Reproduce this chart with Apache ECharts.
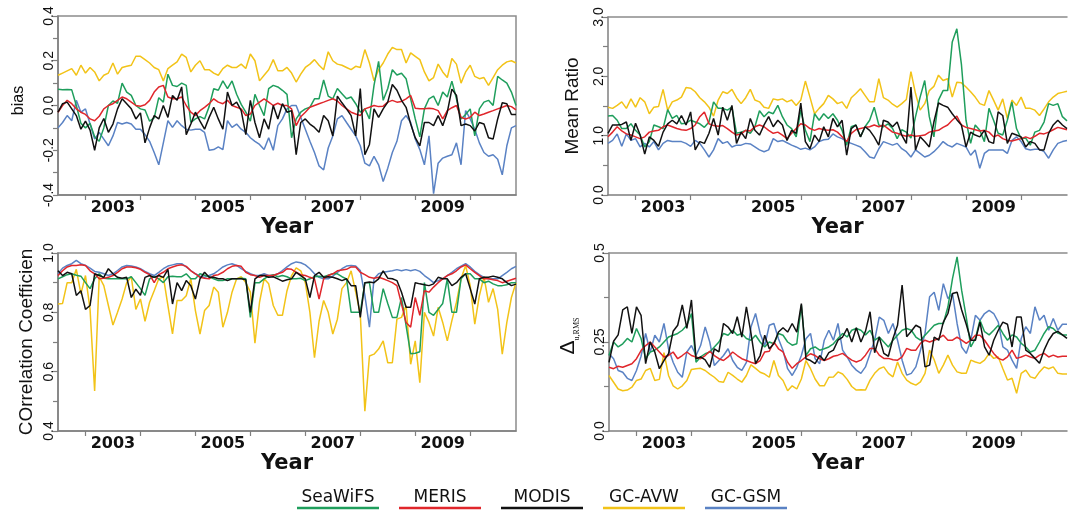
<!DOCTYPE html>
<html>
<head>
<meta charset="utf-8">
<title>Monthly validation statistics 2002–2010</title>
<script src="https://cdn.jsdelivr.net/npm/echarts@6/dist/echarts.min.js"></script>
<style>
  html, body { margin: 0; padding: 0; background: #ffffff; }
  #chart { width: 1078px; height: 511px; }
</style>
</head>
<body>
<div id="chart"></div>
<script>
// ---- time axis -------------------------------------------------------------
const START_YEAR = 2002;
const START_MONTH = 7;          // first monthly composite: July 2002
const N_OBS = 101;              // July 2002 .. November 2010
const YEAR_LABELS = ['2003', '2005', '2007', '2009'];
const YEAR_TICKS = ['2003', '2004', '2005', '2006', '2007', '2008', '2009', '2010'];

// ---- products --------------------------------------------------------------
const SERIES_NAMES = ['SeaWiFS', 'MERIS', 'MODIS', 'GC-AVW', 'GC-GSM'];
const SERIES_COLORS = ['#1f9e5c', '#e0262b', '#111111', '#f2c318', '#5a82c4'];

// ---- bias ------------------------------------------------------------------
const biasSeaWiFS = [
  0.073, 0.07, 0.072, 0.07, 0.0, -0.08, -0.1, -0.08, -0.14, -0.16,
  -0.1, 0.0, 0.02, 0.01, 0.1, 0.06, 0.045, 0.0, -0.015, -0.02,
  -0.07, -0.055, 0.035, 0.015, 0.14, 0.09, 0.085, 0.1, 0.09, -0.075,
  -0.06, -0.05, -0.06, -0.005, 0.075, 0.068, 0.11, 0.075, 0.11, 0.05,
  0.005, -0.03, -0.07, 0.05, 0.0, -0.045, 0.075, 0.09, 0.083, 0.068,
  0.05, -0.144, -0.06, -0.03, -0.015, -0.008, 0.03, 0.03, 0.114, 0.042,
  0.03, 0.076, 0.053, 0.03, 0.038, 0.008, -0.03, -0.015, -0.06, 0.09,
  0.197, 0.023, 0.076, 0.16, 0.136, 0.144, 0.12, 0.03, -0.06, -0.14,
  -0.015, 0.03, 0.042, 0.0, 0.06, 0.038, 0.109, 0.03, -0.06, -0.04,
  -0.015, -0.136, -0.015, 0.015, 0.023, 0.0, 0.13, 0.114, 0.1, 0.06, 0.0
];
const biasMERIS = [
  -0.03, 0.0, 0.023, 0.008, -0.015, -0.03, -0.04, -0.06, -0.068, -0.048,
  -0.015, 0.0, 0.008, 0.023, 0.038, 0.03, 0.015, 0.0, -0.003, 0.003,
  0.023, 0.06, 0.083, 0.09, 0.038, 0.03, 0.03, 0.038, 0.0, -0.03,
  -0.045, -0.023, -0.008, 0.008, 0.03, 0.015, 0.008, 0.023, 0.0, -0.008,
  -0.015, -0.045, -0.038, 0.0, 0.015, 0.03, 0.015, 0.0, 0.01, 0.0,
  0.0, -0.015, -0.09, -0.05, -0.03, -0.008, 0.0, 0.008, 0.015, 0.023,
  0.03, 0.02, 0.0, -0.015, -0.03, -0.038, -0.045, -0.015, -0.008, 0.0,
  -0.005, -0.003, 0.015, 0.023, 0.015, 0.018, 0.03, 0.045, -0.012, -0.015,
  -0.015, -0.012, -0.015, -0.023, -0.06, -0.023, -0.01, 0.0, -0.053, -0.06,
  -0.053, -0.03, -0.045, -0.038, -0.03, -0.023, -0.015, -0.008, 0.0, -0.005, -0.02
];
const biasMODIS = [
  -0.03, 0.008, 0.015, -0.015, -0.045, -0.106, -0.07, -0.11, -0.2, -0.1,
  -0.058, -0.12, -0.083, -0.015, 0.03, 0.008, -0.015, -0.06, -0.033, -0.167,
  -0.1, -0.045, -0.06, 0.0, -0.053, 0.045, 0.023, 0.083, -0.13, -0.083,
  -0.03, -0.07, -0.106, -0.053, -0.008, -0.06, -0.106, 0.06, 0.0, 0.015,
  -0.023, -0.13, 0.023, -0.076, -0.144, -0.06, -0.106, 0.0, -0.06, 0.008,
  -0.03, -0.023, -0.22, -0.076, -0.06, -0.083, -0.098, -0.12, -0.045, -0.068,
  -0.136, 0.042, 0.012, -0.015, -0.045, -0.136, 0.076, -0.22, -0.174, -0.015,
  -0.053, -0.015, 0.015, 0.094, 0.068, 0.023, -0.008, -0.083, -0.144, -0.18,
  -0.076, -0.076, -0.09, -0.045, -0.09, -0.03, 0.073, 0.045, -0.09, -0.083,
  -0.09, -0.114, -0.076, -0.083, -0.144, -0.15, -0.06, 0.012, 0.008, -0.04, -0.04
];
const biasGCAVW = [
  0.135, 0.145, 0.155, 0.165, 0.135, 0.18, 0.145, 0.17, 0.15, 0.11,
  0.135, 0.145, 0.19, 0.14, 0.17, 0.175, 0.18, 0.22, 0.22, 0.205,
  0.19, 0.17, 0.16, 0.11, 0.165, 0.18, 0.195, 0.23, 0.215, 0.15,
  0.18, 0.2, 0.16, 0.16, 0.145, 0.135, 0.165, 0.18, 0.17, 0.17,
  0.185, 0.165, 0.23, 0.2, 0.11, 0.135, 0.16, 0.205, 0.155, 0.155,
  0.17, 0.145, 0.105, 0.14, 0.17, 0.185, 0.205, 0.18, 0.16, 0.24,
  0.2, 0.185, 0.18, 0.17, 0.16, 0.175, 0.17, 0.25, 0.19, 0.11,
  0.16, 0.19, 0.23, 0.26, 0.25, 0.25, 0.19, 0.235, 0.22, 0.205,
  0.15, 0.11, 0.125, 0.185, 0.15, 0.125, 0.21, 0.185, 0.1, 0.15,
  0.18, 0.13, 0.12, 0.125, 0.09, 0.125, 0.16, 0.18, 0.195, 0.2, 0.19
];
const biasGCGSM = [
  -0.1, -0.076, -0.045, -0.068, 0.023, -0.03, -0.015, -0.083, -0.15, -0.12,
  -0.15, -0.18, -0.136, -0.076, -0.083, -0.076, -0.083, -0.106, -0.106, -0.13,
  -0.16, -0.21, -0.265, -0.167, -0.068, -0.098, -0.068, -0.09, -0.106, -0.11,
  -0.106, -0.106, -0.12, -0.2, -0.197, -0.185, -0.197, -0.068, -0.098, -0.083,
  -0.106, -0.12, -0.144, -0.16, -0.174, -0.197, -0.144, -0.2, -0.09, -0.06,
  -0.015, 0.0, 0.0, -0.053, -0.106, -0.16, -0.21, -0.27, -0.288, -0.19,
  -0.136, -0.06, -0.045, -0.076, -0.106, -0.136, -0.18, -0.258, -0.27, -0.227,
  -0.265, -0.34, -0.28, -0.21, -0.16, -0.068, -0.045, -0.076, -0.15, -0.197,
  -0.265, -0.136, -0.394, -0.258, -0.235, -0.227, -0.22, -0.167, -0.265, -0.023,
  -0.06, -0.106, -0.167, -0.21, -0.227, -0.22, -0.24, -0.31, -0.18, -0.1, -0.09
];

// ---- mean ratio ------------------------------------------------------------
const ratioSeaWiFS = [
  1.33, 1.34, 1.26, 1.12, 1.12, 1.2, 1.09, 1.01, 0.81, 0.9,
  1.18, 1.15, 1.12, 1.44, 1.29, 1.34, 1.2, 1.21, 1.26, 1.23,
  1.2, 1.14, 1.23, 1.57, 1.46, 1.46, 1.43, 1.48, 1.04, 1.06,
  1.09, 1.04, 1.15, 1.42, 1.32, 1.4, 1.37, 1.51, 1.32, 1.18,
  1.12, 0.98, 1.43, 1.09, 0.9, 1.37, 1.26, 1.37, 1.29, 1.37,
  1.26, 1.09, 0.84, 1.15, 1.18, 0.98, 1.15, 1.26, 1.48, 1.18,
  1.15, 1.2, 1.12, 0.95, 1.1, 1.06, 0.96, 1.32, 1.65, 1.93,
  1.32, 0.98, 1.6, 1.76, 1.76, 2.58, 2.8, 2.2, 1.26, 0.87,
  1.18, 1.09, 0.9, 1.46, 1.26, 1.04, 1.01, 1.26, 1.57, 1.12,
  0.95, 0.96, 0.84, 1.06, 1.09, 1.23, 1.54, 1.51, 1.54, 1.32, 1.25
];
const ratioMERIS = [
  0.98, 1.06, 1.15, 1.08, 1.03, 1.01, 0.98, 0.95, 0.98, 1.06,
  1.08, 1.09, 1.15, 1.18, 1.15, 1.12, 1.1, 1.09, 1.12, 1.18,
  1.32, 1.4, 1.2, 1.17, 1.16, 1.17, 1.12, 1.06, 1.01, 1.03,
  1.09, 1.08, 1.15, 1.18, 1.15, 1.09, 1.04, 1.06, 1.01, 0.95,
  1.04, 1.12, 1.2, 1.18, 1.12, 1.09, 1.12, 1.1, 1.09, 1.1,
  1.06, 0.98, 0.9, 1.04, 1.1, 1.12, 1.14, 1.15, 1.18, 1.15,
  1.18, 1.12, 1.06, 1.04, 1.01, 0.99, 1.01, 0.99, 1.0, 1.01,
  1.06, 1.08, 1.09, 1.14, 1.18, 1.26, 1.33, 1.18, 1.14, 1.12,
  1.1, 1.08, 1.09, 1.06, 0.98, 1.01, 0.95, 0.92, 0.91, 0.93,
  0.95, 0.98, 0.95, 0.99, 1.04, 1.03, 1.06, 1.1, 1.14, 1.12, 1.1
];
const ratioMODIS = [
  1.04, 1.18, 1.18, 1.19, 1.23, 0.92, 1.21, 1.01, 0.69, 0.98,
  0.92, 0.82, 1.06, 1.2, 1.26, 1.2, 1.34, 1.18, 1.4, 0.76,
  0.9, 0.87, 1.04, 1.29, 1.01, 1.48, 1.26, 1.51, 0.87, 1.06,
  0.95, 1.29, 1.09, 1.01, 1.18, 1.32, 1.15, 1.26, 1.18, 0.92,
  1.09, 1.04, 1.55, 0.9, 0.78, 1.01, 0.9, 1.15, 0.98, 1.29,
  1.15, 1.26, 0.67, 1.12, 1.18, 0.98, 1.15, 1.09, 0.98, 0.84,
  1.26, 1.23, 1.15, 1.23, 1.01, 0.87, 1.82, 0.76, 0.98, 0.9,
  0.81, 1.23, 1.55, 1.51, 1.48, 1.37, 1.27, 1.18, 0.81, 1.06,
  1.01, 0.98, 1.09, 0.9, 0.87, 1.4, 1.34, 0.87, 1.04, 1.01,
  0.98, 0.81, 0.9, 0.87, 0.76, 0.76, 1.04, 1.18, 1.26, 1.18, 1.12
];
const ratioGCAVW = [
  1.48, 1.46, 1.51, 1.57, 1.46, 1.62, 1.48, 1.64, 1.57, 1.37,
  1.48, 1.49, 1.78, 1.43, 1.57, 1.6, 1.65, 1.81, 1.8, 1.74,
  1.64, 1.57, 1.48, 1.33, 1.6, 1.74, 1.71, 1.78, 1.64, 1.54,
  1.64, 1.78, 1.6, 1.57, 1.48, 1.46, 1.62, 1.6, 1.62, 1.57,
  1.6, 1.51, 1.6, 1.92, 1.65, 1.37, 1.46, 1.54, 1.68, 1.62,
  1.54, 1.57, 1.46, 1.64, 1.71, 1.79, 1.68, 1.57, 1.57, 1.96,
  1.64, 1.6, 1.53, 1.48, 1.54, 1.61, 2.08, 1.71, 1.43, 1.54,
  1.76, 1.83, 2.02, 1.93, 1.96, 1.65, 1.9, 1.89, 1.82, 1.74,
  1.65, 1.54, 1.51, 1.76, 1.6, 1.43, 1.62, 1.29, 1.6, 1.51,
  1.65, 1.46, 1.46, 1.43, 1.34, 1.45, 1.57, 1.65, 1.71, 1.73, 1.75
];
const ratioGCGSM = [
  0.87, 0.92, 1.03, 0.82, 1.03, 0.92, 0.95, 0.81, 0.87, 0.81,
  0.9, 0.76, 0.87, 0.92, 0.9, 0.9, 0.9, 0.87, 0.82, 0.92,
  0.87, 0.76, 0.64, 0.76, 0.95, 0.87, 0.9, 0.81, 0.84, 0.84,
  0.87, 0.86, 0.81, 0.76, 0.73, 0.76, 0.95, 0.9, 0.92, 0.88,
  0.84, 0.81, 0.77, 0.79, 0.76, 0.81, 0.9, 0.93, 0.94, 1.03,
  0.98, 0.95, 0.9, 0.87, 0.84, 0.81, 0.73, 0.64, 0.62, 0.78,
  0.9, 0.87, 0.84, 0.87, 0.78, 0.73, 0.64, 0.76, 0.7, 0.64,
  0.67, 0.73, 0.81, 0.9, 0.84, 0.81, 0.87, 0.84, 0.81, 0.67,
  0.76, 0.45, 0.7, 0.76, 0.76, 0.76, 0.76, 0.7, 0.92, 0.98,
  0.9, 0.78, 0.76, 0.77, 0.77, 0.73, 0.62, 0.76, 0.87, 0.9, 0.92
];

// ---- correlation coefficient -----------------------------------------------
const corrSeaWiFS = [
  0.913, 0.92, 0.927, 0.93, 0.925, 0.922, 0.9, 0.88, 0.913, 0.93,
  0.915, 0.913, 0.913, 0.913, 0.913, 0.913, 0.92, 0.9, 0.88, 0.857,
  0.913, 0.92, 0.913, 0.9, 0.92, 0.922, 0.92, 0.92, 0.93, 0.913,
  0.913, 0.93, 0.925, 0.92, 0.913, 0.907, 0.907, 0.913, 0.913, 0.913,
  0.915, 0.913, 0.783, 0.9, 0.9, 0.913, 0.922, 0.927, 0.92, 0.924,
  0.92, 0.913, 0.913, 0.915, 0.907, 0.913, 0.92, 0.922, 0.92, 0.925,
  0.93, 0.93, 0.92, 0.913, 0.8, 0.8, 0.8, 0.9, 0.9, 0.8,
  0.8, 0.88, 0.83, 0.783, 0.783, 0.85, 0.755, 0.66, 0.662, 0.667,
  0.9, 0.8, 0.79, 0.81, 0.83, 0.913, 0.8, 0.8, 0.913, 0.93,
  0.93, 0.913, 0.913, 0.9, 0.905, 0.896, 0.89, 0.89, 0.893, 0.9, 0.9
];
const corrMERIS = [
  0.924, 0.94, 0.953, 0.958, 0.958, 0.96, 0.958, 0.94, 0.93, 0.913,
  0.915, 0.918, 0.924, 0.935, 0.947, 0.953, 0.953, 0.95, 0.945, 0.935,
  0.927, 0.9, 0.927, 0.935, 0.947, 0.953, 0.958, 0.96, 0.955, 0.94,
  0.93, 0.918, 0.915, 0.913, 0.924, 0.927, 0.935, 0.947, 0.955, 0.958,
  0.955, 0.935, 0.927, 0.924, 0.918, 0.924, 0.924, 0.924, 0.93, 0.935,
  0.947, 0.945, 0.935, 0.927, 0.924, 0.918, 0.913, 0.845, 0.913, 0.924,
  0.93, 0.94, 0.943, 0.945, 0.953, 0.953, 0.935, 0.927, 0.918, 0.915,
  0.918, 0.913, 0.907, 0.9, 0.89, 0.828, 0.766, 0.75, 0.85, 0.79,
  0.873, 0.868, 0.885, 0.9, 0.913, 0.924, 0.93, 0.94, 0.953, 0.96,
  0.947, 0.935, 0.924, 0.913, 0.913, 0.91, 0.907, 0.9, 0.905, 0.91, 0.915
];
const corrMODIS = [
  0.94, 0.924, 0.935, 0.93, 0.857, 0.873, 0.81, 0.823, 0.93, 0.924,
  0.918, 0.947, 0.93, 0.918, 0.915, 0.918, 0.85, 0.878, 0.857, 0.918,
  0.924, 0.918, 0.924, 0.918, 0.945, 0.828, 0.9, 0.873, 0.907, 0.89,
  0.845, 0.913, 0.935, 0.918, 0.918, 0.913, 0.913, 0.907, 0.913, 0.913,
  0.913, 0.91, 0.8, 0.913, 0.924, 0.924, 0.918, 0.92, 0.913, 0.905,
  0.91, 0.913, 0.935, 0.924, 0.913, 0.85, 0.924, 0.935, 0.918, 0.92,
  0.918, 0.913, 0.907, 0.913, 0.89, 0.89, 0.783, 0.9, 0.902, 0.9,
  0.913, 0.94, 0.915, 0.913, 0.907, 0.868, 0.817, 0.817, 0.9, 0.896,
  0.893, 0.89, 0.896, 0.918, 0.913, 0.913, 0.89, 0.9, 0.918, 0.93,
  0.88, 0.828, 0.913, 0.918, 0.918, 0.922, 0.918, 0.913, 0.9, 0.89, 0.895
];
const corrGCAVW = [
  0.828, 0.83, 0.9, 0.9, 0.945, 0.862, 0.924, 0.81, 0.535, 0.92,
  0.89, 0.823, 0.757, 0.8, 0.845, 0.9, 0.92, 0.81, 0.845, 0.77,
  0.834, 0.873, 0.913, 0.92, 0.823, 0.727, 0.84, 0.84, 0.856, 0.913,
  0.806, 0.727, 0.806, 0.823, 0.885, 0.868, 0.75, 0.8, 0.868, 0.913,
  0.92, 0.9, 0.868, 0.696, 0.834, 0.913, 0.896, 0.823, 0.79, 0.79,
  0.873, 0.924, 0.95, 0.94, 0.9, 0.8, 0.647, 0.77, 0.84, 0.8,
  0.727, 0.777, 0.88, 0.9, 0.94, 0.868, 0.794, 0.467, 0.653, 0.659,
  0.676, 0.704, 0.63, 0.63, 0.777, 0.783, 0.823, 0.625, 0.704, 0.563,
  0.8, 0.766, 0.72, 0.817, 0.766, 0.704, 0.772, 0.834, 0.913, 0.958,
  0.89, 0.76, 0.856, 0.92, 0.834, 0.88, 0.81, 0.659, 0.766, 0.85, 0.9
];
const corrGCGSM = [
  0.93, 0.949, 0.958, 0.964, 0.975, 0.964, 0.958, 0.949, 0.938, 0.935,
  0.93, 0.924, 0.93, 0.941, 0.953, 0.958, 0.956, 0.953, 0.947, 0.938,
  0.93, 0.924, 0.935, 0.947, 0.956, 0.96, 0.964, 0.964, 0.953, 0.941,
  0.93, 0.922, 0.918, 0.924, 0.93, 0.941, 0.953, 0.96, 0.964, 0.958,
  0.947, 0.938, 0.93, 0.924, 0.924, 0.93, 0.924, 0.924, 0.93, 0.941,
  0.953, 0.964, 0.97, 0.967, 0.96, 0.947, 0.93, 0.918, 0.913, 0.913,
  0.922, 0.935, 0.947, 0.956, 0.958, 0.956, 0.941, 0.857, 0.75, 0.913,
  0.93, 0.935, 0.938, 0.94, 0.944, 0.94, 0.944, 0.94, 0.944, 0.938,
  0.924, 0.913, 0.9, 0.907, 0.913, 0.924, 0.935, 0.947, 0.956, 0.964,
  0.953, 0.938, 0.927, 0.918, 0.913, 0.913, 0.913, 0.924, 0.935, 0.947, 0.955
];

// ---- unbiased RMS difference -----------------------------------------------
const rmsSeaWiFS = [
  0.212, 0.25, 0.236, 0.245, 0.26, 0.25, 0.288, 0.26, 0.203, 0.222,
  0.227, 0.236, 0.25, 0.264, 0.269, 0.274, 0.283, 0.297, 0.33, 0.193,
  0.208, 0.217, 0.222, 0.236, 0.25, 0.274, 0.269, 0.283, 0.269, 0.274,
  0.26, 0.255, 0.269, 0.25, 0.236, 0.25, 0.245, 0.274, 0.269, 0.25,
  0.241, 0.245, 0.354, 0.212, 0.231, 0.236, 0.227, 0.231, 0.236, 0.245,
  0.26, 0.274, 0.264, 0.283, 0.288, 0.283, 0.27, 0.283, 0.255, 0.264,
  0.25, 0.236, 0.255, 0.269, 0.283, 0.288, 0.283, 0.264, 0.255, 0.269,
  0.283, 0.297, 0.302, 0.302, 0.349, 0.428, 0.489, 0.395, 0.32, 0.236,
  0.26, 0.311, 0.279, 0.27, 0.283, 0.297, 0.274, 0.255, 0.27, 0.264,
  0.246, 0.236, 0.222, 0.227, 0.25, 0.274, 0.293, 0.288, 0.275, 0.27, 0.27
];
const rmsMERIS = [
  0.179, 0.175, 0.182, 0.179, 0.184, 0.189, 0.203, 0.226, 0.24, 0.25,
  0.236, 0.222, 0.208, 0.212, 0.222, 0.203, 0.212, 0.222, 0.212, 0.208,
  0.203, 0.212, 0.224, 0.212, 0.203, 0.198, 0.208, 0.222, 0.212, 0.203,
  0.198, 0.193, 0.189, 0.198, 0.222, 0.224, 0.25, 0.231, 0.222, 0.193,
  0.176, 0.189, 0.198, 0.208, 0.217, 0.212, 0.203, 0.198, 0.203, 0.21,
  0.213, 0.218, 0.208, 0.199, 0.194, 0.199, 0.213, 0.232, 0.232, 0.213,
  0.204, 0.204, 0.2, 0.199, 0.208, 0.232, 0.227, 0.227, 0.246, 0.255,
  0.25, 0.255, 0.26, 0.269, 0.255, 0.255, 0.264, 0.255, 0.246, 0.255,
  0.269, 0.269, 0.255, 0.236, 0.218, 0.204, 0.199, 0.208, 0.227, 0.204,
  0.208, 0.213, 0.208, 0.204, 0.213, 0.218, 0.208, 0.213, 0.208, 0.21, 0.21
];
const rmsMODIS = [
  0.193, 0.252, 0.27, 0.34, 0.349, 0.274, 0.349, 0.325, 0.189, 0.25,
  0.222, 0.175, 0.198, 0.217, 0.28, 0.297, 0.354, 0.288, 0.368, 0.203,
  0.208, 0.2, 0.179, 0.231, 0.222, 0.302, 0.292, 0.274, 0.321, 0.264,
  0.349, 0.274, 0.189, 0.212, 0.269, 0.231, 0.245, 0.278, 0.29, 0.278,
  0.302, 0.278, 0.358, 0.203, 0.198, 0.189, 0.212, 0.198, 0.22, 0.227,
  0.255, 0.264, 0.288, 0.25, 0.29, 0.25, 0.28, 0.335, 0.22, 0.264,
  0.218, 0.21, 0.26, 0.297, 0.41, 0.265, 0.28, 0.297, 0.29, 0.18,
  0.185, 0.264, 0.255, 0.306, 0.33, 0.386, 0.39, 0.34, 0.3, 0.255,
  0.255, 0.306, 0.236, 0.213, 0.255, 0.283, 0.306, 0.3, 0.236, 0.32,
  0.32, 0.227, 0.218, 0.204, 0.19, 0.227, 0.255, 0.274, 0.28, 0.27, 0.26
];
const rmsGCAVW = [
  0.156, 0.137, 0.118, 0.113, 0.115, 0.123, 0.142, 0.146, 0.17, 0.176,
  0.142, 0.145, 0.22, 0.156, 0.127, 0.118, 0.127, 0.142, 0.173, 0.175,
  0.176, 0.17, 0.16, 0.151, 0.139, 0.137, 0.165, 0.156, 0.146, 0.137,
  0.156, 0.186, 0.176, 0.165, 0.16, 0.151, 0.198, 0.156, 0.142, 0.113,
  0.127, 0.118, 0.146, 0.198, 0.175, 0.146, 0.127, 0.127, 0.151, 0.152,
  0.166, 0.16, 0.145, 0.125, 0.115, 0.116, 0.115, 0.143, 0.162, 0.175,
  0.18, 0.162, 0.152, 0.194, 0.162, 0.143, 0.134, 0.129, 0.138, 0.162,
  0.227, 0.2, 0.162, 0.185, 0.213, 0.185, 0.166, 0.162, 0.162, 0.199,
  0.194, 0.19, 0.199, 0.218, 0.204, 0.208, 0.175, 0.143, 0.148, 0.106,
  0.162, 0.171, 0.152, 0.148, 0.166, 0.18, 0.175, 0.18, 0.162, 0.16, 0.16
];
const rmsGCGSM = [
  0.217, 0.203, 0.17, 0.165, 0.148, 0.142, 0.17, 0.21, 0.274, 0.222,
  0.269, 0.25, 0.302, 0.231, 0.193, 0.165, 0.151, 0.222, 0.24, 0.212,
  0.24, 0.292, 0.25, 0.184, 0.198, 0.212, 0.231, 0.198, 0.179, 0.17,
  0.193, 0.292, 0.33, 0.274, 0.24, 0.297, 0.302, 0.259, 0.226, 0.175,
  0.156, 0.179, 0.212, 0.259, 0.274, 0.203, 0.189, 0.255, 0.283, 0.255,
  0.302, 0.227, 0.208, 0.185, 0.171, 0.162, 0.18, 0.218, 0.255, 0.32,
  0.311, 0.274, 0.302, 0.255, 0.199, 0.157, 0.162, 0.18, 0.227, 0.274,
  0.377, 0.39, 0.339, 0.414, 0.372, 0.386, 0.302, 0.236, 0.218, 0.255,
  0.325, 0.311, 0.33, 0.339, 0.33, 0.306, 0.236, 0.227, 0.199, 0.176,
  0.26, 0.293, 0.274, 0.349, 0.311, 0.325, 0.283, 0.316, 0.283, 0.3, 0.3
];

// ---- y tick labels (values that carry a label; other ticks stay bare) ------
const BIAS_TICKS = [-0.4, -0.2, 0.0, 0.2, 0.4];
const BIAS_TICK_TEXT = ['-0.4', '-0.2', '0.0', '0.2', '0.4'];
const RATIO_TICKS = [0, 1, 2, 3];
const RATIO_TICK_TEXT = ['0.0', '1.0', '2.0', '3.0'];
const CORR_TICKS = [0.4, 0.6, 0.8, 1.0];
const CORR_TICK_TEXT = ['0.4', '0.6', '0.8', '1.0'];
const RMS_TICKS = [0, 0.25, 0.5];
const RMS_TICK_TEXT = ['0.0', '0.25', '0.5'];

// ---------------------------------------------------------------------------
function monthLabels(count) {
  const out = [];
  for (let k = 0; k < count; k++) {
    const m0 = START_MONTH - 1 + k;
    const y = START_YEAR + Math.floor(m0 / 12);
    const m = (m0 % 12) + 1;
    out.push(y + '-' + (m < 10 ? '0' + m : '' + m));
  }
  return out;
}
const MONTHS = monthLabels(N_OBS);

function tickFormatter(vals, texts) {
  return function (v) {
    for (let k = 0; k < vals.length; k++) {
      if (Math.abs(v - vals[k]) < 1e-6) return texts[k];
    }
    return '';
  };
}

const AXIS_GREY = '#7f7f7f';
const FRAME_GREY = '#8c8c8c';
const TEXT = '#111111';

// closed: full box round the plot; open: no rule on the right-hand side
const panels = [
  {
    rect: { left: 58, top: 16, width: 458, height: 179 }, frame: 'closed',
    y: { min: -0.4, max: 0.4, interval: 0.1 },
    fmt: tickFormatter(BIAS_TICKS, BIAS_TICK_TEXT),
    name: 'bias', nameGap: 31, nameSize: 16, namePad: [0, 0, 0, 10],
    data: [biasSeaWiFS, biasMERIS, biasMODIS, biasGCAVW, biasGCGSM]
  },
  {
    rect: { left: 608, top: 17, width: 459, height: 178 }, frame: 'open',
    y: { min: 0, max: 3, interval: 0.5 },
    fmt: tickFormatter(RATIO_TICKS, RATIO_TICK_TEXT),
    name: 'Mean Ratio', nameGap: 26, nameSize: 19, namePad: [0, 0, 0, 0],
    data: [ratioSeaWiFS, ratioMERIS, ratioMODIS, ratioGCAVW, ratioGCGSM]
  },
  {
    rect: { left: 58, top: 253, width: 458, height: 178 }, frame: 'closed',
    y: { min: 0.4, max: 1.0, interval: 0.1 },
    fmt: tickFormatter(CORR_TICKS, CORR_TICK_TEXT),
    name: 'COrrelation Coefficien', nameGap: 22, nameSize: 19, namePad: [0, 0, 0, 0],
    data: [corrSeaWiFS, corrMERIS, corrMODIS, corrGCAVW, corrGCGSM]
  },
  {
    rect: { left: 609, top: 253, width: 458, height: 178 }, frame: 'open',
    y: { min: 0, max: 0.5, interval: 0.125 },
    fmt: tickFormatter(RMS_TICKS, RMS_TICK_TEXT),
    name: '{d|Δ}{s|u,RMS}', nameGap: 28, nameSize: 19, namePad: [0, 0, 0, 12],
    data: [rmsSeaWiFS, rmsMERIS, rmsMODIS, rmsGCAVW, rmsGCGSM]
  }
];

// drawing order: GC-AVW underneath, MODIS on top
const DRAW_ORDER = [3, 4, 0, 1, 2];

const grid = [], xAxis = [], yAxis = [], series = [], topRules = [];
panels.forEach((p, g) => {
  grid.push(Object.assign({
    show: p.frame === 'closed', borderColor: FRAME_GREY, borderWidth: 1.5,
    backgroundColor: 'transparent', containLabel: false
  }, p.rect));

  xAxis.push({
    type: 'category', gridIndex: g, data: MONTHS, boundaryGap: false,
    axisLine: { show: true, onZero: false, lineStyle: { color: AXIS_GREY, width: 1.5 } },
    axisTick: {
      show: true, length: 5, lineStyle: { color: AXIS_GREY, width: 1.2 },
      interval: (i, v) => v.slice(5) === '01' && YEAR_TICKS.indexOf(v.slice(0, 4)) >= 0
    },
    axisLabel: {
      interval: (i, v) => v.slice(5) === '07' && YEAR_LABELS.indexOf(v.slice(0, 4)) >= 0,
      formatter: v => v.slice(0, 4),
      margin: 5, color: TEXT,
      fontFamily: 'DejaVu Sans', fontWeight: 'bold', fontSize: 16
    },
    splitLine: { show: false },
    name: 'Year', nameLocation: 'middle', nameGap: 20,
    nameTextStyle: { fontFamily: 'DejaVu Sans', fontWeight: 'bold', fontSize: 21, color: TEXT }
  });

  if (p.frame === 'open') {
    // upper rule of an open frame
    topRules.push({
      type: 'category', gridIndex: g, data: MONTHS, boundaryGap: false, position: 'top',
      axisLine: { show: true, onZero: false, lineStyle: { color: FRAME_GREY, width: 1.5 } },
      axisTick: { show: false }, axisLabel: { show: false }, splitLine: { show: false }
    });
  }

  yAxis.push({
    type: 'value', gridIndex: g,
    min: p.y.min, max: p.y.max, interval: p.y.interval,
    axisLine: { show: true, lineStyle: { color: AXIS_GREY, width: 1.5 } },
    axisTick: { show: true, length: 5, lineStyle: { color: AXIS_GREY, width: 1.2 } },
    axisLabel: {
      rotate: 90, margin: 2, color: TEXT, formatter: p.fmt,
      fontFamily: 'Liberation Sans', fontSize: 14
    },
    splitLine: { show: false },
    name: p.name, nameLocation: 'middle', nameGap: p.nameGap,
    nameTextStyle: {
      fontFamily: 'Liberation Sans', fontSize: p.nameSize, color: TEXT,
      padding: p.namePad,
      rich: {
        d: { fontFamily: 'Liberation Sans', fontSize: 21, color: TEXT, lineHeight: 26, verticalAlign: 'middle' },
        s: { fontFamily: 'Liberation Sans Narrow', fontSize: 8, color: TEXT, lineHeight: 26, verticalAlign: 'bottom' }
      }
    }
  });

  DRAW_ORDER.forEach(k => {
    series.push({
      name: SERIES_NAMES[k], type: 'line',
      xAxisIndex: g, yAxisIndex: g,
      data: p.data[k],
      showSymbol: false, symbol: 'none', smooth: false,
      lineStyle: { color: SERIES_COLORS[k], width: 1.5 },
      itemStyle: { color: SERIES_COLORS[k] },
      emphasis: { disabled: true }, silent: true
    });
  });
});
topRules.forEach(a => xAxis.push(a));

// legend: name with a coloured rule underneath
const legendRich = {
  t: { fontFamily: 'DejaVu Sans', fontSize: 17, color: TEXT, width: 82, align: 'center', lineHeight: 17 }
};
SERIES_NAMES.forEach((n, k) => {
  legendRich['u' + k] = { width: 82, height: 2.5, lineHeight: 4, backgroundColor: SERIES_COLORS[k] };
});

const option = {
  animation: false,
  backgroundColor: '#ffffff',
  grid, xAxis, yAxis, series,
  legend: {
    data: SERIES_NAMES,
    top: 484, left: 'center',
    itemWidth: 0, itemHeight: 0, itemGap: 14,
    selectedMode: false,
    formatter: name => '{t|' + name + '}\n{u' + SERIES_NAMES.indexOf(name) + '|}',
    textStyle: { rich: legendRich }
  }
};

const chart = echarts.init(document.getElementById('chart'), null, { renderer: 'canvas' });
chart.setOption(option);
</script>
</body>
</html>
